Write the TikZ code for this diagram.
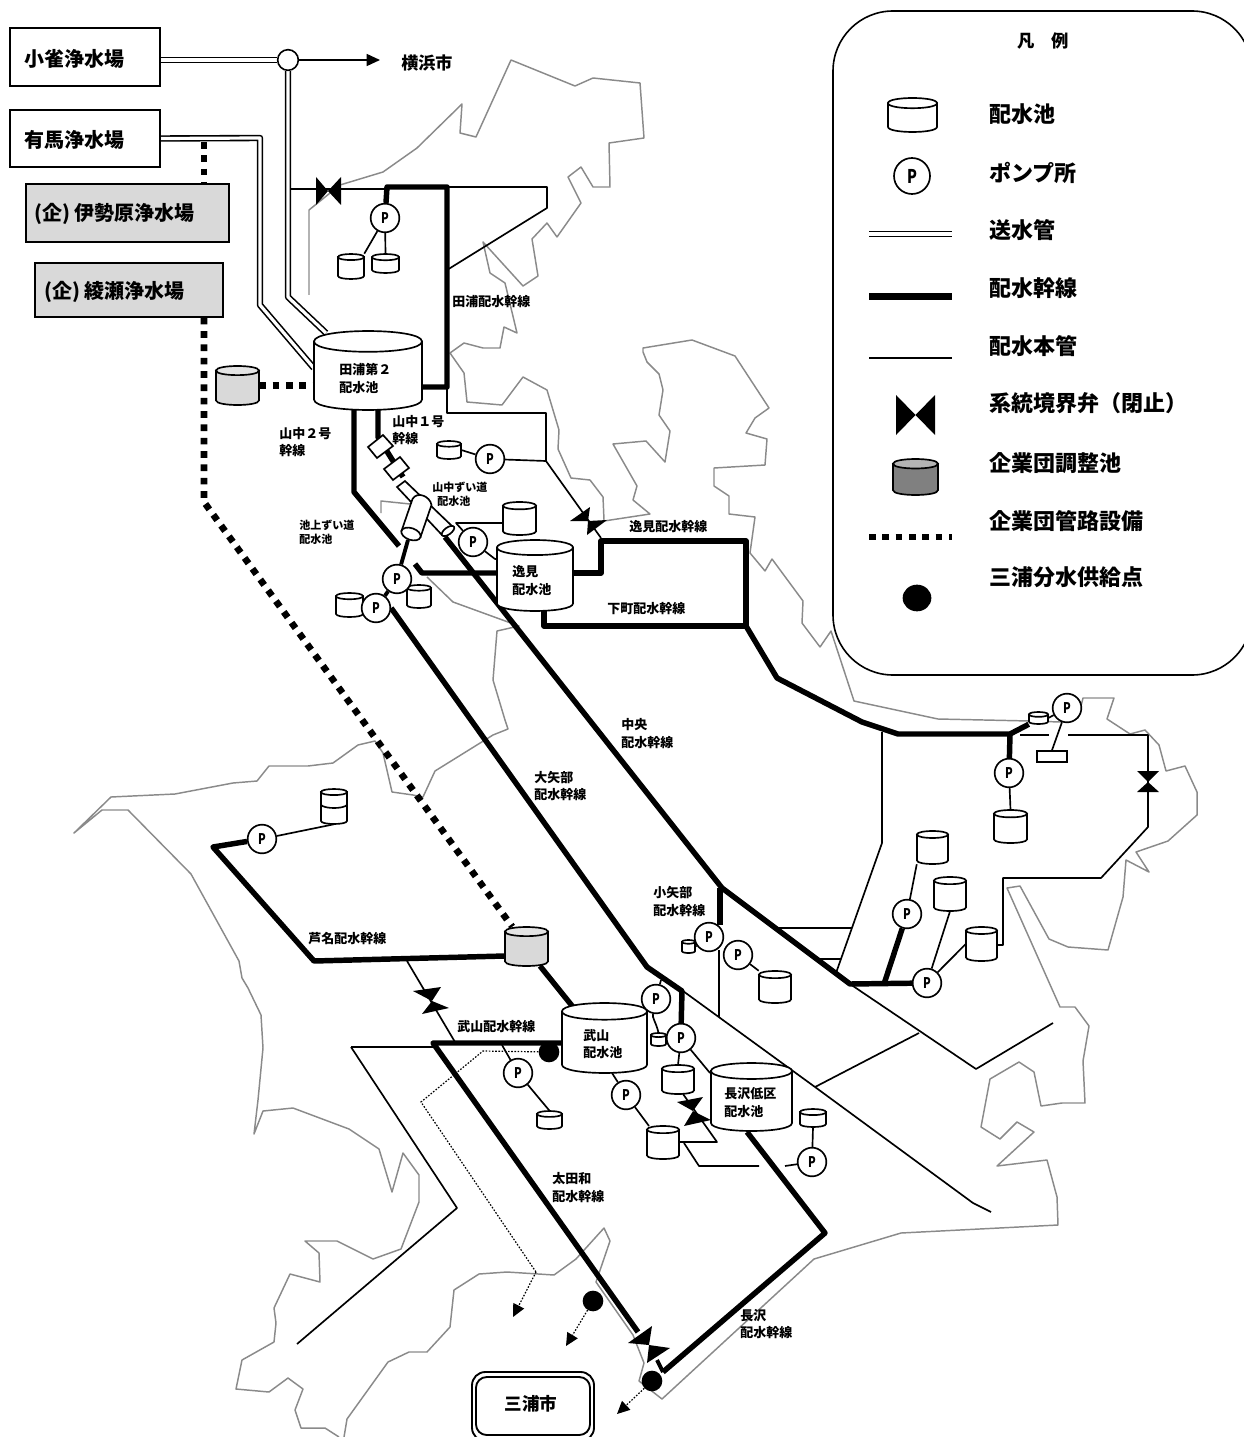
\documentclass[tikz,border=0pt]{standalone}
\usepackage{fontspec}
\setmainfont{Noto Sans CJK JP}
\usetikzlibrary{fit,arrows.meta,backgrounds,calc,shapes.geometric}
\newcommand{\txtS}{\fontsize{8.25}{10.5}\selectfont\bfseries}
\newcommand{\txtM}{\fontsize{9.75}{13.2}\selectfont\bfseries}
\newcommand{\txtB}{\fontsize{15}{18}\selectfont\bfseries}
\newcommand{\txtL}{\fontsize{16.5}{20}\selectfont\bfseries}
\newcommand{\pumpP}{\scalebox{0.8}[1.05]{\bfseries P}}
\definecolor{coast}{HTML}{8A8A8A}
\definecolor{plantgray}{HTML}{D9D9D9}
\definecolor{legdark}{HTML}{808080}
\definecolor{legtop}{HTML}{B4B4B4}
\tikzset{
  lab/.style={font=\txtM,anchor=west,align=left,inner sep=0pt},
  labs/.style={font=\txtS,anchor=west,align=left,inner sep=0pt},
  labb/.style={font=\txtB,anchor=west,inner sep=0pt},
  labl/.style={font=\txtL,anchor=west,inner sep=0pt},
  coastln/.style={draw=coast,line width=1.1pt,line join=round},
  thin main/.style={draw=black,line width=1.25pt,line join=round},
  trunk/.style={draw=black,line width=4.1pt,line join=round},
  midtrunk/.style={draw=black,line width=2.9pt},
  dbl/.style={draw=black,line width=1.2pt,double=white,double distance=2.4pt,line join=round},
  corp/.style={draw=black,line width=5pt,dash pattern=on 5pt off 5pt},
  fine/.style={draw=black,line width=.9pt,dash pattern=on 1.2pt off 1.2pt},
  finearrow/.style={fine,-{Triangle[length=9.5pt,width=9pt]}},
  pump/.style={draw=black,line width=1.25pt,circle,fill=white,minimum size=21.5pt,inner sep=0pt,font=\fontsize{10.5}{10}\selectfont},
  tankln/.style={draw=black,line width=1.25pt},
  supply/.style={fill=black,draw=none},
  plant/.style={draw=black,line width=1.2pt,fill=white,inner sep=0pt},
}
\newcommand{\tank}[7]{%
  \pgfmathsetmacro\tkry{0.09*(#4-#2)+0.7}%
  \pgfmathsetmacro\tkm{#3+\tkry}%
  \pgfmathsetmacro\tkb{#5-\tkry}%
  \pgfmathsetmacro\tkc{#5+0.33*\tkry}%
  \pgfmathsetmacro\tkt{\tkm-1.33*\tkry}%
  \pgfmathsetmacro\tku{\tkm+1.33*\tkry}%
  \path[tankln,fill=#6] (#2,\tkm) -- (#2,\tkb) .. controls (#2,\tkc) and (#4,\tkc) .. (#4,\tkb) -- (#4,\tkm) -- cycle;
  \path[tankln,fill=#7] (#2,\tkm) .. controls (#2,\tkt) and (#4,\tkt) .. (#4,\tkm) .. controls (#4,\tku) and (#2,\tku) .. (#2,\tkm) -- cycle;
  \node[fit={(#2,#3)(#4,#5)},inner sep=0pt] (#1) {};
}
\begin{document}
\begin{tikzpicture}[x=0.75pt,y=-0.75pt]
\useasboundingbox (0,0) rectangle (1243,1437);

% plants
\node[plant,fit={(10,28)(160,86)}] (kosuzume) {};
\node[labb] (tk1) at (24,59) {小雀浄水場};
\node[plant,fit={(10,110)(160,167)}] (arima) {};
\node[labb] (tk2) at (24,140) {有馬浄水場};
\node[plant,fill=plantgray,fit={(26,184)(229,242)}] (isehara) {};
\node[labb] (tk3) at (34,214) {(企) 伊勢原浄水場};
\node[plant,fill=plantgray,fit={(35,263)(223,317)}] (ayase) {};
\node[labb] (tk4) at (44,292) {(企) 綾瀬浄水場};
\node[draw=black,line width=1.2pt,circle,fill=white,minimum size=15.5pt,inner sep=0pt] (jn) at (288,60) {};
\node[font=\fontsize{12.8}{14}\selectfont\bfseries,anchor=west,inner sep=0pt] (tk5) at (401,63) {横浜市};

% tunnels and box chambers
\filldraw[fill=white,tankln] (368,447)--(383,435)--(393,446)--(377,458)--cycle;
\filldraw[fill=white,tankln] (384,469)--(400,457)--(409,468)--(393,480)--cycle;
\filldraw[fill=white,tankln] (397,487)--(405,481)--(453,527)--(442,535)--cycle;
\draw[fill=white,tankln,rotate around={36:(448,531)}] (448,531) ellipse [x radius=5.5pt,y radius=2.6pt];
\filldraw[fill=white,tankln] (412.5,499) .. controls (417,491) and (430,496) .. (431.5,505) -- (420.5,537) -- (401.5,531) -- cycle;
\draw[fill=white,tankln,rotate around={-19:(411,534)}] (411,534) ellipse [x radius=7.5pt,y radius=4.4pt];

% tanks
\tank{tura}{314}{331}{422}{410}{white}{white}
\tank{ta1}{338}{254}{364}{279}{white}{white}
\tank{ta2}{372}{254}{399}{273}{white}{white}
\tank{tgA}{216}{366}{259}{405}{plantgray}{plantgray!70!white}
\tank{tb}{437}{441}{461}{459}{white}{white}
\tank{tc}{503}{502}{536}{535}{white}{white}
\tank{itsumi}{497}{540}{573}{611}{white}{white}
\tank{td}{336}{593}{363}{617}{white}{white}
\tank{te}{407}{585}{431}{608}{white}{white}
\tank{tf}{321}{789}{347}{824}{white}{white}
\draw[tankln] (321,805) .. controls (325,809) and (343,809) .. (347,805);
\tank{tgB}{505}{927}{548}{966}{plantgray}{plantgray!70!white}
\tank{takeyama}{562}{1003}{647}{1073}{white}{white}
\tank{nagasawa}{711}{1063}{792}{1131}{white}{white}
\tank{tg}{537}{1111}{562}{1129}{white}{white}
\tank{th}{647}{1126}{679}{1159}{white}{white}
\tank{ti}{651}{1033}{666}{1046}{white}{white}
\tank{tj}{662}{1065}{694}{1094}{white}{white}
\tank{tk}{800}{1109}{826}{1127}{white}{white}
\tank{tl}{682}{940}{695}{953}{white}{white}
\tank{tm}{759}{971}{791}{1003}{white}{white}
\tank{tn}{994}{810}{1027}{843}{white}{white}
\tank{to}{1029}{712}{1048}{724}{white}{white}
\tank{tp}{917}{831}{948}{864}{white}{white}
\tank{tq}{934}{877}{966}{911}{white}{white}
\tank{tr}{966}{927}{997}{961}{white}{white}
\node[tankln,fill=white,fit={(1037,751)(1067,762)},inner sep=0pt] (rectE) {};

% pumps
\node[pump] (pa) at (385,218) {\pumpP};
\node[pump] (pb) at (490,459) {\pumpP};
\node[pump] (pc) at (473,542) {\pumpP};
\node[pump] (pd) at (397,579) {\pumpP};
\node[pump] (pe) at (376,608) {\pumpP};
\node[pump] (pf) at (262,839) {\pumpP};
\node[pump] (pg) at (518,1073) {\pumpP};
\node[pump] (ph) at (626,1095) {\pumpP};
\node[pump] (pi) at (656,999) {\pumpP};
\node[pump] (pj) at (681,1038) {\pumpP};
\node[pump] (pk) at (812,1162) {\pumpP};
\node[pump] (pl) at (709,937) {\pumpP};
\node[pump] (pm) at (738,955) {\pumpP};
\node[pump] (pn) at (1009,773) {\pumpP};
\node[pump] (po) at (1067,708) {\pumpP};
\node[pump] (pp) at (907,914) {\pumpP};
\node[pump] (pq) at (927,983) {\pumpP};

% closed boundary valves
\fill (316,177)--(328,191)--(316,205)--cycle (341,177)--(328,191)--(341,205)--cycle;
\fill (570,521)--(590,507)--(588,521)--cycle (607,520)--(587,535)--(588,521)--cycle;
\fill (1137,771)--(1159,771)--(1148,782)--cycle (1137,792)--(1159,792)--(1148,782)--cycle;
\fill (413,991)--(441,987)--(432,1001)--cycle (422,1014)--(449,1008)--(432,1001)--cycle;
\fill (677,1102)--(703,1097)--(693,1111)--cycle (684,1126)--(711,1120)--(693,1111)--cycle;
\fill (652,1326)--(628,1343)--(649,1345)--cycle (670,1348)--(647,1363)--(649,1345)--cycle;

% supply points
\node[supply,circle,minimum size=15.5pt,inner sep=0pt] (s1) at (549,1052) {};
\node[supply,circle,minimum size=15.5pt,inner sep=0pt] (s2) at (593,1301) {};
\node[supply,circle,minimum size=15.5pt,inner sep=0pt] (s3) at (652,1381) {};

% Miura
\draw[line width=1.4pt,rounded corners=10pt] (472,1372) rectangle (594,1441);
\draw[line width=1.4pt,rounded corners=8pt] (476,1377) rectangle (590,1435);
\node[font=\fontsize{13.2}{14}\selectfont\bfseries,inner sep=0pt] (miura) at (531,1404) {三浦市};

% map labels
\node[lab] (m1) at (339,378.5) {田浦第２\\配水池};
\node[lab] (m2) at (452,302) {田浦配水幹線};
\node[lab] (m3) at (392,430) {山中１号\\幹線};
\node[lab] (m4) at (279,442) {山中２号\\幹線};
\node[labs] (m5) at (432,494) {山中ずい道\\\ \ 配水池};
\node[labs] (m6) at (299,532) {池上ずい道\\配水池};
\node[lab] (m7) at (512,580.5) {逸見\\配水池};
\node[lab] (m8) at (629,527) {逸見配水幹線};
\node[lab] (m9) at (607,609) {下町配水幹線};
\node[lab] (m10) at (621,733.5) {中央\\配水幹線};
\node[lab] (m11) at (534,786) {大矢部\\配水幹線};
\node[lab] (m12) at (653,901.5) {小矢部\\配水幹線};
\node[lab] (m13) at (308,939) {芦名配水幹線};
\node[lab] (m14) at (457,1027) {武山配水幹線};
\node[lab] (m15) at (583,1044) {武山\\配水池};
\node[lab] (m16) at (724,1102.5) {長沢低区\\配水池};
\node[lab] (m17) at (552,1187.5) {太田和\\配水幹線};
\node[lab] (m18) at (740,1324) {長沢\\配水幹線};

% legend
\draw[line width=1.2pt,rounded corners=45pt] (833,11) rectangle (1252,675);
\node[font=\fontsize{13}{14}\selectfont\bfseries,inner sep=0pt] (lg0) at (1043,41) {凡\hspace{1em}例};
\tank{lgT}{888}{98}{937}{132}{white}{white}
\node[pump,minimum size=27pt,font=\fontsize{13.5}{12}\selectfont] (lgP) at (912,176) {\pumpP};
\coordinate (lgA) at (869,234); \coordinate (lgAe) at (952,234);
\draw[dbl] (lgA) -- (lgAe);
\coordinate (lgB) at (869,296.5); \coordinate (lgBe) at (952,296.5);
\draw[draw=black,line width=5pt] (lgB) -- (lgBe);
\coordinate (lgC) at (869,358); \coordinate (lgCe) at (952,358);
\draw[draw=black,line width=2.2pt] (lgC) -- (lgCe);
\fill (896,395)--(915.5,415)--(896,435)--cycle (935,395)--(915.5,415)--(935,435)--cycle;
\tank{lgG}{893}{459}{938}{495}{legdark}{legtop}
\coordinate (lgD) at (869,537); \coordinate (lgDe) at (952,537);
\draw[corp] (lgD) -- (lgDe);
\node[supply,ellipse,minimum width=21.5pt,minimum height=20pt,inner sep=0pt] (lgS) at (917,598) {};
\node[labl] (lt1) at (989,114) {配水池};
\node[labl] (lt2) at (989,173) {ポンプ所};
\node[labl] (lt3) at (989,230) {送水管};
\node[labl] (lt4) at (989,288) {配水幹線};
\node[labl] (lt5) at (989,346) {配水本管};
\node[labl] (lt6) at (989,403) {系統境界弁（閉止）};
\node[labl] (lt7) at (989,463) {企業団調整池};
\node[labl] (lt8) at (989,521) {企業団管路設備};
\node[labl] (lt9) at (989,577) {三浦分水供給点};

\begin{scope}[on background layer]
% coast
\draw[coastln] (309,295)--(309,210)--(340,185)--(383,172)--(417,148)--(462,104)--(460,133)--(476,137)--(511,60)--(575,86)--(593,78)--(640,83)--(644,138)--(609,143)--(610,187)--(593,187)--(581,167)--(568,177)--(581,203)--(557,237)--(547,223)--(532,239)--(538,276)--(523,286)--(483,242)--(490,273)--(505,283)--(517,333)--(504,327)--(500,348)--(483,348)--(464,343)--(450,353)--(464,373)--(467,402)--(502,405)--(523,377)--(547,390)--(559,430)--(558,449)--(571,478)--(590,480)--(603,497)--(604,520);
\draw[coastln] (604,521)--(650,514)--(633,500)--(637,486)--(613,444)--(646,441)--(665,462)--(670,431)--(659,415)--(663,390)--(659,374)--(647,362)--(643,352)--(643,348)--(692,340)--(735,356)--(769,408)--(755,418)--(746,433)--(767,439)--(765,465)--(714,468)--(714,486)--(729,496)--(729,514)--(755,517)--(750,553)--(765,571)--(772,559)--(803,601)--(802,623)--(820,647)--(831,631)--(854,701)--(938,719)--(1030,721)--(1060,722)--(1078,718)--(1083,698)--(1114,698)--(1107,719)--(1130,734)--(1145,730)--(1159,745)--(1166,771)--(1185,766)--(1197,792)--(1197,815)--(1168,841)--(1136,852)--(1149,872)--(1126,860)--(1123,897)--(1108,950)--(1068,947)--(1049,939)--(1020,886)--(1007,888)--(1060,1007)--(1075,1007)--(1089,1026)--(1083,1061)--(1085,1103)--(1062,1103)--(1041,1106)--(1034,1072)--(1019,1062)--(990,1079)--(981,1127)--(1000,1139)--(1017,1122)--(1034,1132)--(997,1166)--(1047,1160)--(1057,1197)--(1058,1225)--(901,1233)--(814,1259)--(662,1399)--(639,1381)--(644,1363)--(633,1335)--(596,1282)--(610,1241)--(604,1228)--(576,1259)--(554,1275)--(507,1272)--(479,1274)--(454,1290)--(450,1327)--(427,1352)--(409,1352)--(388,1362)--(347,1419)--(344,1437);
\draw[coastln] (339,1437)--(325,1428)--(301,1428)--(295,1410)--(303,1389)--(288,1378)--(269,1392)--(236,1389)--(242,1360)--(274,1342)--(276,1323)--(274,1308)--(290,1274)--(320,1282)--(319,1253)--(305,1241)--(337,1241)--(373,1259)--(401,1249)--(419,1202)--(419,1175)--(403,1153)--(392,1192)--(379,1149)--(349,1129)--(293,1108)--(263,1111)--(254,1134)--(258,1100)--(263,1048)--(261,1015)--(248,988)--(242,978)--(239,961)--(191,874)--(128,810)--(102,810)--(74,833)--(111,797)--(175,794)--(233,783)--(257,781)--(269,766)--(308,766)--(333,763)--(358,745)--(375,741)--(383,753)--(392,792)--(413,795)--(423,797)--(435,771)--(493,735)--(508,729)--(505,720)--(493,680)--(497,631)--(519,626)--(453,602)--(427,577);
\draw[coastln] (381,513)--(381,501)--(410,504);

% transmission pipes
\draw[dbl] (kosuzume.east |- jn) -- (jn);
\draw[dbl] (jn) -- (288,297) -- (326,333);
\draw[dbl] (arima.east) -- (260,138) -- (260,305) -- (tura.west |- 0,368);
\draw[-{Triangle[length=10pt,width=9pt]},line width=1.1pt] (jn) -- (380,60);

% corporation pipes
\draw[corp] (204,142) -- (isehara.north -| 204,0);
\draw[corp] (ayase.south -| 204,0) -- (204,502) -- (tgB);
\draw[corp] (tgA.east) -- (tura.west |- tgA.east);

% thin mains
\draw[thin main] (290,189) -- (387,189);
\draw[thin main] (447,187) -- (547,187) -- (547,208) -- (447,270);
\draw[thin main] (447,387) -- (447,413) -- (546,413) -- (546,461) -- (601,538);
\draw[thin main] (pb) -- (546,461);
\draw[thin main] (pb) -- (tb.east);
\draw[thin main] (pa) -- (ta1.north east);
\draw[thin main] (pa) -- (ta2.north);
\draw[thin main] (pc) -- (456,523) -- (tc.west |- 0,523);
\draw[thin main] (pc) -- (495,559) -- (itsumi.west |- 0,559);
\draw[thin main] (pf) -- (tf.south);
\draw[thin main] (407,961) -- (455,1042);
\draw[thin main] (351,1047) -- (433,1047);
\draw[thin main] (351,1047) -- (457,1208) -- (297,1344);
\draw[thin main] (502,1045) -- (pg);
\draw[thin main] (pg) -- (tg.north);
\draw[thin main] (612,1073) -- (ph);
\draw[thin main] (ph) -- (649,1126);
\draw[thin main] (661,980) -- (pi);
\draw[thin main] (pi) .. controls (652,1018) and (656,1022) .. (ti.north);
\draw[thin main] (pj) -- (tj.north);
\draw[thin main] (pj) -- (710,1073);
\draw[thin main] (683,1094) -- (717,1142) -- (th.east |- 0,1142);
\draw[thin main] (684,1143) -- (699,1166) -- (759,1166);
\draw[thin main] (785,1166) -- (pk);
\draw[thin main] (pk) -- (tk.south);
\draw[thin main] (pl) -- (tl.east);
\draw[thin main] (pm) -- (tm.north west);
\draw[thin main] (719,950) -- (719,1017);
\draw[thin main] (683,991) -- (815,1087) -- (973,1203) -- (991,1212);
\draw[thin main] (815,1087) -- (919,1033);
\draw[thin main] (850,984) -- (976,1069) -- (1053,1023);
\draw[thin main] (882,732) -- (882,843) -- (836,973);
\draw[thin main] (778,928) -- (852,928);
\draw[thin main] (817,959) -- (841,959);
\draw[thin main] (1020,735) -- (1049,735);
\draw[thin main] (1068,735) -- (1148,735) -- (1148,827) -- (1101,878) -- (1003,878) -- (1003,945) -- (tr.east |- 0,945);
\draw[thin main] (pn) -- (tn.north);
\draw[thin main] (po) -- (to.east);
\draw[thin main] (po) -- (rectE.north);
\draw[thin main] (pp) -- (tp.south west);
\draw[thin main] (pq) -- (tq.south);
\draw[thin main] (pq) -- (tr.west);

% trunk mains
\draw[trunk] (pa) -- (387,187) -- (447,187) -- (447,387) -- (tura.east |- 0,387);
\draw[trunk] (354,408) -- (354,492) -- (399,546);
\draw[trunk] (378,408) -- (378,437) -- (403,477);
\draw[trunk] (itsumi.west |- 0,573) -- (422,573) -- (415,564);
\draw[trunk] (itsumi.east |- 0,573) -- (601,573) -- (601,541) -- (746,541) -- (746,626) -- (544,626) -- (544,608);
\draw[trunk] (746,626) -- (777,678) -- (862,722) -- (898,734) -- (1010,734) -- (to.south west);
\draw[trunk] (1010,734) -- (pn);
\draw[trunk] (445,537) -- (722,888) -- (850,984) -- (pq);
\draw[trunk] (884,984) -- (pp);
\draw[trunk] (720,888) -- (720,925);
\draw[trunk] (pe.east) -- (647,967) -- (682,991) -- (681,1030);
\draw[midtrunk] (pd) -- (pe);
\draw[midtrunk] (408,540) -- (pd);
\draw[trunk] (pf) -- (213,847) -- (314,961) -- (tgB.west |- 0,956);
\draw[trunk] (540,966) -- (573,1007);
\draw[trunk] (takeyama.west |- 0,1043) -- (433,1043) -- (638,1332);
\draw[midtrunk] (657,1360) -- (663,1372);
\draw[trunk] (663,1372) -- (825,1233) -- (747,1132);

% Miura supply
\draw[fine] (s1) -- (483,1051) -- (421,1102) -- (536,1272);
\draw[finearrow] (536,1272) -- (513,1317);
\draw[finearrow] (s2) -- (566,1346);
\draw[finearrow] (s3) -- (617,1414);
\end{scope}
\end{tikzpicture}
\end{document}
